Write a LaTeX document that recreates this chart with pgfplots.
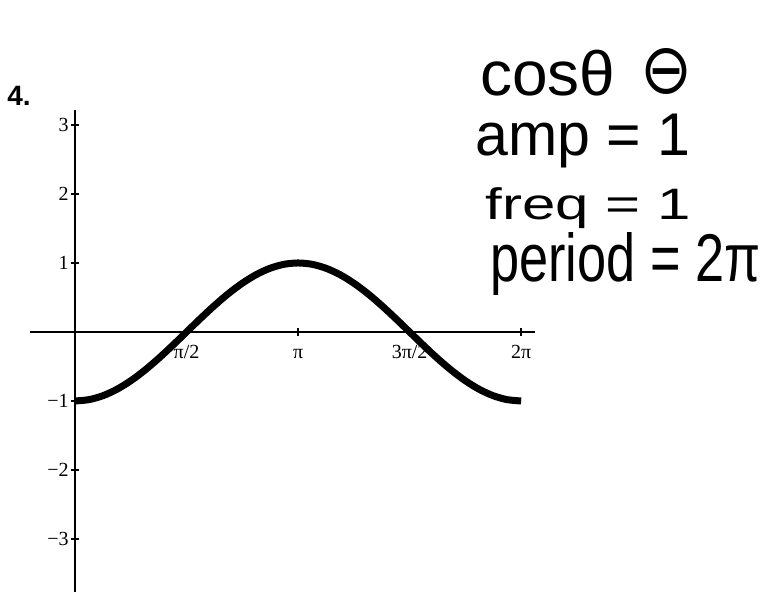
\documentclass[border=0pt]{standalone}
\usepackage{pgfplots}
\pgfplotsset{compat=1.18}
\usepackage{fontspec}
\setmainfont{Liberation Serif}
\newfontfamily\hand{Liberation Sans}
\newfontfamily\sym{DejaVu Sans}
\usepackage{graphicx}

% y = -cos(x), sampled every pi/16 on [0, 2pi]
\pgfplotstableread{
x y
0.00000 -1.00000
0.19635 -0.98079
0.39270 -0.92388
0.58905 -0.83147
0.78540 -0.70711
0.98175 -0.55557
1.17810 -0.38268
1.37445 -0.19509
1.57080 0.00000
1.76715 0.19509
1.96350 0.38268
2.15984 0.55557
2.35619 0.70711
2.55254 0.83147
2.74889 0.92388
2.94524 0.98079
3.14159 1.00000
3.33794 0.98079
3.53429 0.92388
3.73064 0.83147
3.92699 0.70711
4.12334 0.55557
4.31969 0.38268
4.51604 0.19509
4.71239 0.00000
4.90874 -0.19509
5.10509 -0.38268
5.30144 -0.55557
5.49779 -0.70711
5.69414 -0.83147
5.89049 -0.92388
6.08684 -0.98079
6.28319 -1.00000
}\curve

\begin{document}
\begin{tikzpicture}
\useasboundingbox (0,0) rectangle (382pt,-296pt);

\node[anchor=north west, inner sep=0, font=\hand\bfseries\fontsize{14}{16}\selectfont] at (3.5pt,-43pt) {4.};

\begin{axis}[
  at={(15pt,-55pt)}, anchor=north west,
  x=35.5pt, y=34.5pt,
  xmin=-0.634, xmax=6.479,
  ymin=-3.768, ymax=3.217,
  enlargelimits=false,
  axis lines=middle,
  axis line style={-, line width=1pt, black},
  xtick={1.5708,3.1416,4.7124,6.2832},
  xticklabels={π/2, π, 3π/2, 2π},
  ytick={-3,-2,-1,1,2,3},
  yticklabels={−3, −2, −1, 1, 2, 3},
  tick align=center,
  major tick length=4pt,
  tick style={line width=0.8pt, black},
  tick label style={font=\fontsize{10}{12}\selectfont},
  yticklabel style={inner sep=1pt},
  xticklabel style={inner sep=2.5pt, text height=8.5pt, text depth=2pt},
  clip=false,
]
\addplot[black, line width=3.5pt, smooth] table {\curve};
\end{axis}

% handwritten notes beside the graph
\node[anchor=north west, inner sep=0] at (240pt,-25pt) {\resizebox*{67.5pt}{23pt}{\hand cosθ}};
\node[anchor=north west, inner sep=0] at (320pt,-24pt) {\resizebox*{26pt}{23pt}{\sym ⊖}};
\node[anchor=north west, inner sep=0] at (237.5pt,-57pt) {\resizebox*{107.5pt}{27pt}{\hand amp = 1}};
\node[anchor=north west, inner sep=0] at (242.5pt,-93.5pt) {\resizebox*{102.5pt}{20.5pt}{\hand freq = 1}};
\node[anchor=north west, inner sep=0] at (245pt,-116pt) {\resizebox*{135pt}{31.5pt}{\hand period = 2π}};
\end{tikzpicture}
\end{document}
